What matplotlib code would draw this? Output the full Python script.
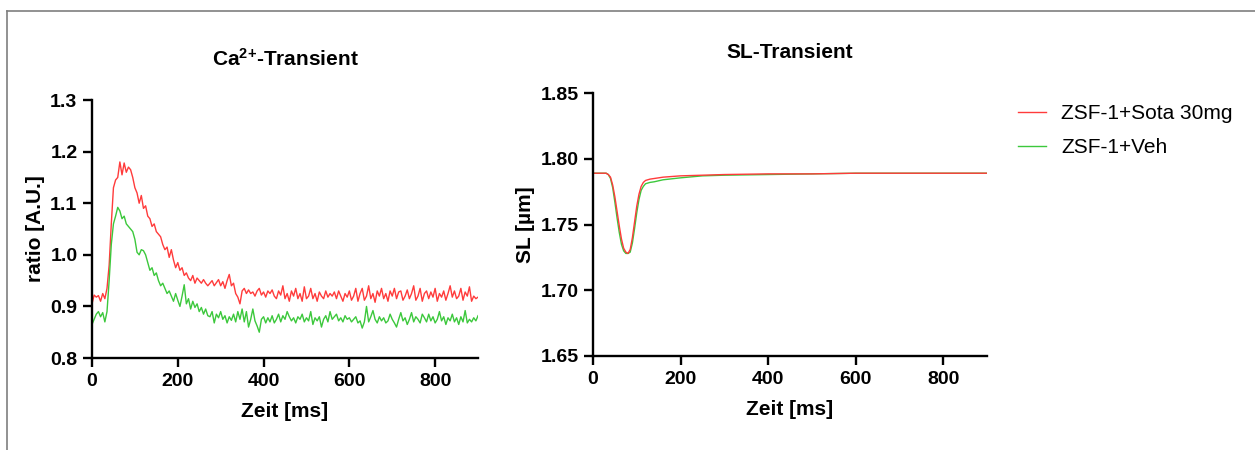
import numpy as np
import matplotlib
matplotlib.use("Agg")
from matplotlib import pyplot as plt
from matplotlib.lines import Line2D

plt.rcParams['font.family'] = ['Liberation Sans', 'DejaVu Sans']
plt.rcParams['mathtext.fontset'] = 'custom'
plt.rcParams['mathtext.rm'] = 'Liberation Sans:bold'
plt.rcParams['mathtext.default'] = 'rm'

# Ca2+ transient, sampled every 5 ms from 0 to 900 ms
ca_time = np.arange(0, 905, 5)
ca_sota = [
    0.905, 0.922, 0.918, 0.921, 0.910, 0.925, 0.915, 0.935, 0.980, 1.060,
    1.130, 1.145, 1.150, 1.180, 1.155, 1.178, 1.160, 1.170, 1.165, 1.150,
    1.130, 1.120, 1.100, 1.115, 1.090, 1.095, 1.075, 1.070, 1.055, 1.060,
    1.045, 1.040, 1.035, 1.020, 1.010, 1.015, 0.995, 1.010, 0.990, 0.975,
    0.985, 0.970, 0.975, 0.960, 0.965, 0.955, 0.950, 0.960, 0.945, 0.955,
    0.950, 0.945, 0.952, 0.945, 0.940, 0.945, 0.950, 0.940, 0.946, 0.952,
    0.940, 0.948, 0.935, 0.950, 0.962, 0.940, 0.945, 0.925, 0.918, 0.905,
    0.930, 0.935, 0.925, 0.932, 0.925, 0.928, 0.920, 0.930, 0.935, 0.922,
    0.928, 0.918, 0.930, 0.925, 0.932, 0.920, 0.915, 0.930, 0.922, 0.940,
    0.915, 0.925, 0.910, 0.930, 0.920, 0.935, 0.915, 0.925, 0.910, 0.938,
    0.915, 0.920, 0.935, 0.915, 0.925, 0.910, 0.928, 0.920, 0.915, 0.930,
    0.918, 0.925, 0.920, 0.928, 0.915, 0.930, 0.920, 0.910, 0.925, 0.918,
    0.930, 0.912, 0.920, 0.935, 0.910, 0.925, 0.935, 0.912, 0.920, 0.940,
    0.915, 0.925, 0.908, 0.930, 0.920, 0.935, 0.915, 0.925, 0.910, 0.930,
    0.920, 0.935, 0.915, 0.928, 0.930, 0.912, 0.920, 0.932, 0.915, 0.925,
    0.940, 0.912, 0.920, 0.935, 0.910, 0.925, 0.930, 0.915, 0.928, 0.918,
    0.935, 0.910, 0.925, 0.918, 0.930, 0.912, 0.925, 0.940, 0.918, 0.930,
    0.915, 0.920, 0.935, 0.912, 0.928, 0.920, 0.938, 0.910, 0.920, 0.915,
    0.918,
]
ca_veh = [
    0.865, 0.875, 0.885, 0.890, 0.880, 0.888, 0.870, 0.890, 0.950, 1.020,
    1.060, 1.075, 1.092, 1.085, 1.070, 1.075, 1.060, 1.055, 1.050, 1.045,
    1.030, 1.005, 1.000, 1.010, 1.008, 1.000, 0.985, 0.970, 0.975, 0.960,
    0.965, 0.950, 0.940, 0.945, 0.935, 0.925, 0.930, 0.920, 0.910, 0.925,
    0.912, 0.900, 0.920, 0.942, 0.905, 0.915, 0.895, 0.910, 0.898, 0.905,
    0.890, 0.898, 0.885, 0.895, 0.882, 0.880, 0.890, 0.868, 0.885, 0.878,
    0.890, 0.875, 0.882, 0.868, 0.880, 0.873, 0.885, 0.870, 0.890, 0.875,
    0.895, 0.870, 0.890, 0.860, 0.875, 0.895, 0.872, 0.862, 0.850, 0.875,
    0.880, 0.868, 0.878, 0.870, 0.882, 0.868, 0.875, 0.885, 0.870, 0.882,
    0.875, 0.890, 0.880, 0.872, 0.878, 0.868, 0.880, 0.875, 0.885, 0.870,
    0.878, 0.872, 0.890, 0.865, 0.878, 0.872, 0.880, 0.860, 0.875, 0.882,
    0.870, 0.890, 0.875, 0.880, 0.885, 0.872, 0.878, 0.870, 0.882, 0.875,
    0.878, 0.870, 0.875, 0.880, 0.868, 0.872, 0.858, 0.870, 0.900, 0.870,
    0.880, 0.892, 0.875, 0.868, 0.880, 0.872, 0.878, 0.868, 0.872, 0.885,
    0.875, 0.868, 0.860, 0.875, 0.888, 0.872, 0.878, 0.865, 0.875, 0.888,
    0.870, 0.880, 0.875, 0.868, 0.885, 0.878, 0.870, 0.885, 0.872, 0.880,
    0.868, 0.875, 0.890, 0.872, 0.880, 0.865, 0.878, 0.872, 0.885, 0.870,
    0.878, 0.865, 0.880, 0.870, 0.892, 0.868, 0.875, 0.870, 0.878, 0.872,
    0.882,
]

# sarcomere length transient
sl_time = [0, 30, 35, 40, 45, 50, 55, 60, 65, 70, 75, 80, 85, 90, 95, 100,
           105, 110, 115, 120, 130, 140, 160, 200, 250, 300, 400, 500, 600,
           700, 800, 900]
sl_sota = [1.789, 1.789, 1.788, 1.786, 1.780, 1.771, 1.760, 1.749, 1.739,
           1.732, 1.729, 1.728, 1.731, 1.740, 1.752, 1.764, 1.773, 1.779,
           1.782, 1.7835, 1.7845, 1.785, 1.786, 1.787, 1.7875, 1.788, 1.7885,
           1.7885, 1.789, 1.789, 1.789, 1.789]
sl_veh = [1.789, 1.789, 1.788, 1.785, 1.778, 1.767, 1.755, 1.744, 1.735,
          1.730, 1.728, 1.728, 1.729, 1.736, 1.747, 1.759, 1.769, 1.776,
          1.779, 1.781, 1.782, 1.7825, 1.784, 1.7855, 1.787, 1.7875, 1.788,
          1.7885, 1.789, 1.789, 1.789, 1.789]

labels = ['ZSF-1+Sota 30mg', 'ZSF-1+Veh']
red = '#ff3b3b'
green = '#3cc83c'

fig = plt.figure(figsize=(12.55, 4.5), dpi=100)
ax1 = fig.add_axes([0.0733, 0.2044, 0.3076, 0.5733])
ax2 = fig.add_axes([0.4725, 0.2089, 0.3140, 0.5844])

ax1.plot(ca_time, ca_sota, color=red, lw=1.0, label=labels[0])
ax1.plot(ca_time, ca_veh, color=green, lw=1.0, label=labels[1])
ax2.plot(sl_time, sl_veh, color=green, lw=1.0)
ax2.plot(sl_time, sl_sota, color=red, lw=1.0)

ax1.set_ylim(0.8, 1.3)
ax1.set_yticks(np.arange(0.8, 1.31, 0.1))
ax1.set_yticklabels(['0.8', '0.9', '1.0', '1.1', '1.2', '1.3'])
ax2.set_ylim(1.65, 1.85)
ax2.set_yticks([1.65, 1.70, 1.75, 1.80, 1.85])
ax2.set_yticklabels(['1.65', '1.70', '1.75', '1.80', '1.85'])

for ax in (ax1, ax2):
    ax.set_xlim(0, 900)
    ax.set_xticks([0, 200, 400, 600, 800])
    for s in ('top', 'right'):
        ax.spines[s].set_visible(False)
    for s in ('left', 'bottom'):
        ax.spines[s].set_linewidth(1.7)
    ax.tick_params(width=1.7, length=6.5, labelsize=14, pad=4)
    for t in ax.get_xticklabels() + ax.get_yticklabels():
        t.set_fontweight('bold')
    ax.set_xlabel('Zeit [ms]', fontsize=15, fontweight='bold', labelpad=9)

ax1.set_ylabel('ratio [A.U.]', fontsize=15, fontweight='bold', labelpad=4)
ax2.set_ylabel('SL [µm]', fontsize=15, fontweight='bold', labelpad=4)
ax1.set_title(r'$\mathregular{Ca^{2{+}}}$-Transient', fontsize=15,
              fontweight='bold', pad=25)
ax2.set_title('SL-Transient', fontsize=15, fontweight='bold', pad=25)

fig.legend(handles=ax1.get_lines(), labels=labels, loc='upper left',
           bbox_to_anchor=(0.8115, 0.768), frameon=False, fontsize=15,
           handlelength=1.3, handletextpad=0.75, labelspacing=0.7,
           borderpad=0, borderaxespad=0)

# grey frame from the screenshot
fig.add_artist(Line2D([7 / 1255, 1], [1 - 11 / 450, 1 - 11 / 450],
                      color='#7f7f7f', lw=1.2, transform=fig.transFigure))
fig.add_artist(Line2D([7 / 1255, 7 / 1255], [0, 1 - 11 / 450],
                      color='#7f7f7f', lw=1.2, transform=fig.transFigure))

fig.savefig('out.png', dpi=100)
